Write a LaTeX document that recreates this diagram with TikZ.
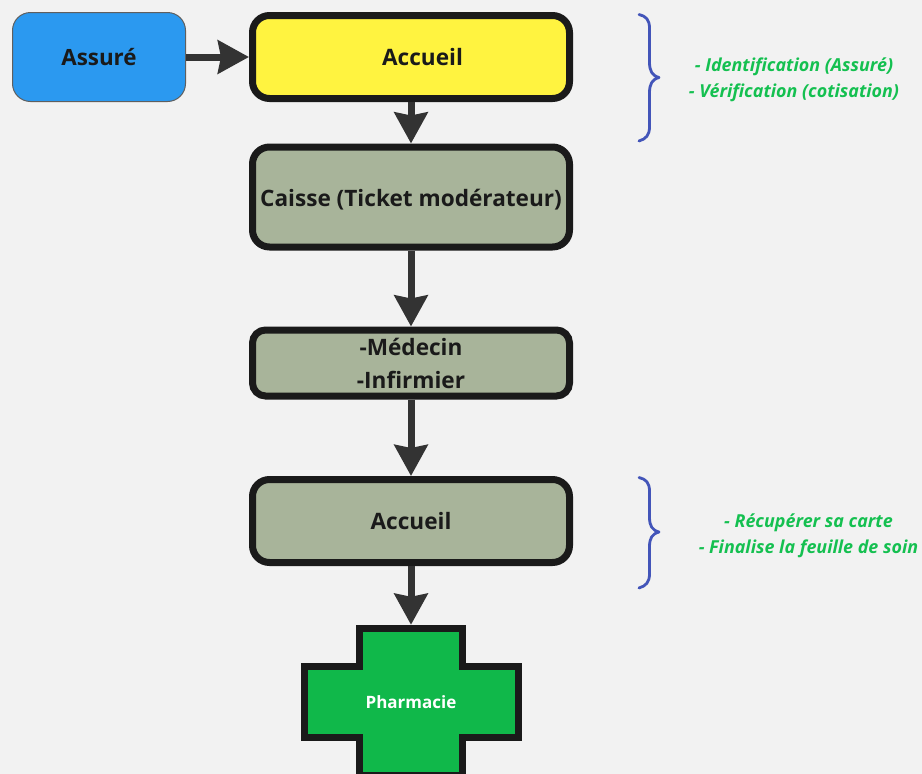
\documentclass[tikz,border=0pt]{standalone}
\usepackage{fontspec}
\setmainfont{Open Sans}
\usetikzlibrary{arrows.meta}
\definecolor{bgc}{HTML}{F2F2F2}
\definecolor{strokec}{HTML}{1A1A1A}
\definecolor{arrowc}{HTML}{333333}
\definecolor{bluec}{HTML}{2B99F0}
\definecolor{yellowc}{HTML}{FFF340}
\definecolor{sagec}{HTML}{A8B49A}
\definecolor{greenc}{HTML}{10B84A}
\definecolor{notec}{HTML}{14C050}
\definecolor{bracec}{HTML}{4355B9}
\tikzset{
  x=1pt,y=-1pt,
  stagebox/.style={draw=strokec,line width=7pt,fill=sagec,rounded corners=17pt,minimum width=317pt,inner sep=0pt,align=center,font=\fontsize{22.6}{33}\selectfont\bfseries,text=strokec},
  flowarrow/.style={draw=arrowc,line width=7pt,-{Stealth[length=31pt,width=33pt,inset=3pt,fill=arrowc]}},
  notetext/.style={align=center,text=notec,font=\fontsize{17.9}{26}\selectfont\bfseries\itshape,inner sep=0pt},
  bracepath/.style={draw=bracec,line width=2.8pt,line cap=round,line join=round},
}
\begin{document}
\begin{tikzpicture}
\useasboundingbox (0,0) rectangle (922,774);
\clip (0,0) rectangle (922,774);
\fill[bgc] (0,0) rectangle (922,774);

% cross
\draw[draw=strokec,line width=7.5pt,fill=greenc,miter limit=10]
  (359.5,628.5) -- (462.5,628.5) -- (462.5,666.5) -- (518.5,666.5) -- (518.5,737.5)
  -- (462.5,737.5) -- (462.5,776) -- (359.5,776) -- (359.5,737.5) -- (304.5,737.5)
  -- (304.5,666.5) -- (359.5,666.5) -- cycle;

\node[draw=strokec!70,line width=1pt,fill=bluec,rounded corners=18pt,minimum width=173pt,minimum height=89pt,inner sep=0pt,
  font=\fontsize{22.4}{33}\selectfont\bfseries,text=strokec] (assure) at (99,57) {Assuré};
\node[stagebox,fill=yellowc,minimum height=83pt] (acc1) at (411,57) {\hspace*{23pt}Accueil};
\node[stagebox,minimum height=100pt] (caisse) at (411,197) {\raisebox{-9pt}[0pt][0pt]{Caisse (Ticket modérateur)}};
\node[stagebox,minimum height=66pt,rounded corners=13pt] (med) at (411,363) {-Médecin\\-Infirmier};
\node[stagebox,minimum height=83pt] (acc2) at (411,521) {Accueil};
\node[minimum width=221pt,minimum height=154pt,inner sep=0pt,text=white,
  font=\fontsize{17}{20}\selectfont\bfseries] (pharma) at (411,702) {Pharmacie};

\draw[flowarrow] (assure) -- (acc1);
\draw[flowarrow] (acc1) -- (caisse);
\draw[flowarrow] (caisse) -- (med);
\draw[flowarrow] (med) -- (acc2);
\draw[flowarrow] (acc2) -- (pharma);

% braces
\draw[bracepath] (639,14.5) .. controls (646,16) and (649.5,20) .. (649.5,28)
  -- (649.5,62) .. controls (649.5,71) and (652,75.5) .. (659,77.5)
  .. controls (652,79.5) and (649.5,84) .. (649.5,93)
  -- (649.5,127) .. controls (649.5,135) and (646,139) .. (639,141);
\draw[bracepath] (639,477.5) .. controls (646,479) and (649.5,483) .. (649.5,491)
  -- (649.5,517) .. controls (649.5,526) and (652,530) .. (659,532)
  .. controls (652,534) and (649.5,538) .. (649.5,547)
  -- (649.5,574) .. controls (649.5,582) and (646,586) .. (639,588);

\node[notetext] (note1) at (794,80) {- Identification (Assuré)\\- Vérification (cotisation)};
\node[notetext] (note2) at (808.5,536) {- Récupérer sa carte\\- Finalise la feuille de soin};
\end{tikzpicture}
\end{document}
